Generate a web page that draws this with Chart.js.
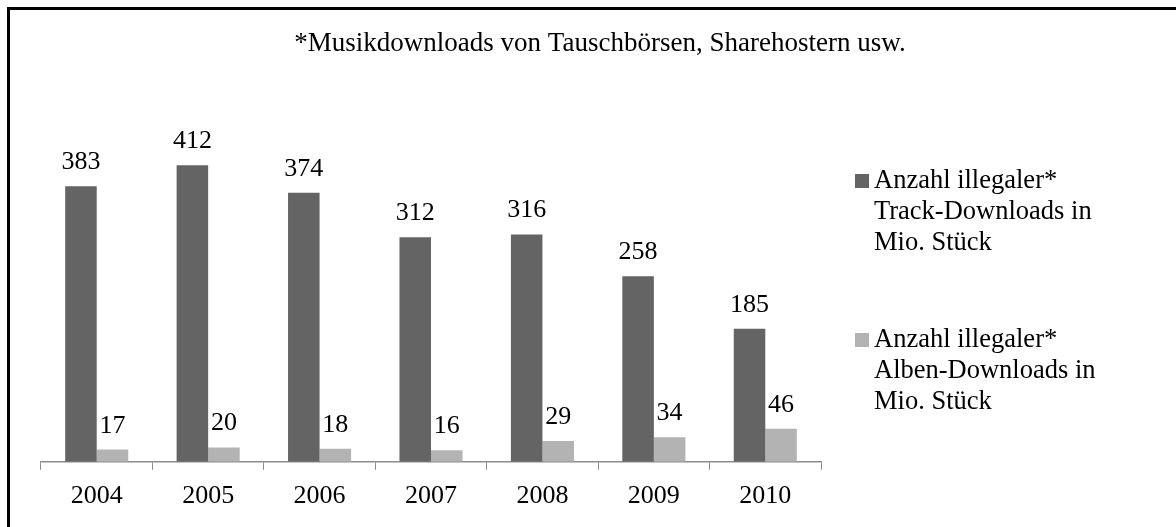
<!DOCTYPE html>
<html>
<head>
<meta charset="utf-8">
<script src="https://cdn.jsdelivr.net/npm/chart.js@4"></script>
<style>
  html, body { margin: 0; padding: 0; background: #fff; }
  #wrap { width: 1176px; height: 527px; position: relative; }
</style>
</head>
<body>
<div id="wrap"><canvas id="chart"></canvas></div>
<script>
const years = ['2004', '2005', '2006', '2007', '2008', '2009', '2010'];
const trackDownloads = [383, 412, 374, 312, 316, 258, 185];
const albumDownloads = [17, 20, 18, 16, 29, 34, 46];
const seriesLabels = [
  ['Anzahl illegaler*', 'Track-Downloads in', 'Mio. Stück'],
  ['Anzahl illegaler*', 'Alben-Downloads in', 'Mio. Stück'],
];
const footnote = '*Musikdownloads von Tauschbörsen, Sharehostern usw.';

const FONT = '"Liberation Serif", "Times New Roman", serif';
const DARK = '#646464';
const LIGHT = '#b3b3b3';

// frame, footnote, value labels and the wrapped legend
const decorations = {
  id: 'decorations',
  afterDraw(chart) {
    const ctx = chart.ctx;
    ctx.save();

    ctx.strokeStyle = '#000';
    ctx.lineWidth = 3;
    ctx.beginPath();
    ctx.moveTo(8.5, 527);
    ctx.lineTo(8.5, 8.5);
    ctx.lineTo(1176, 8.5);
    ctx.stroke();

    ctx.fillStyle = '#000';
    ctx.font = `27px ${FONT}`;
    ctx.textAlign = 'center';
    ctx.textBaseline = 'middle';
    ctx.fillText(footnote, 600, 44);

    ctx.font = `26px ${FONT}`;
    ctx.textBaseline = 'alphabetic';
    chart.data.datasets.forEach((ds, i) => {
      chart.getDatasetMeta(i).data.forEach((bar, j) => {
        ctx.fillText(String(ds.data[j]), bar.x, bar.y - 17);
      });
    });

    const legendTops = [181, 340];
    ctx.font = `26.5px ${FONT}`;
    ctx.textAlign = 'left';
    ctx.textBaseline = 'middle';
    chart.data.datasets.forEach((ds, i) => {
      const y0 = legendTops[i];
      ctx.fillStyle = ds.backgroundColor;
      ctx.fillRect(855, y0 - 7, 14, 14);
      ctx.fillStyle = '#000';
      seriesLabels[i].forEach((line, k) => {
        ctx.fillText(line, 874, y0 + k * 31);
      });
    });

    ctx.restore();
  },
};

new Chart(document.getElementById('chart'), {
  type: 'bar',
  data: {
    labels: years,
    datasets: [
      { label: seriesLabels[0].join(' '), data: trackDownloads, backgroundColor: DARK },
      { label: seriesLabels[1].join(' '), data: albumDownloads, backgroundColor: LIGHT },
    ],
  },
  options: {
    responsive: true,
    maintainAspectRatio: false,
    animation: false,
    categoryPercentage: 0.566,
    barPercentage: 1.0,
    layout: { padding: { left: 41, right: 355, top: 138, bottom: 4 } },
    plugins: {
      legend: { display: false },
      tooltip: { enabled: false },
    },
    scales: {
      x: {
        grid: {
          display: true,
          drawOnChartArea: false,
          drawTicks: true,
          tickLength: 8,
          color: '#8c8c8c',
          offset: true,
        },
        border: { display: true, color: '#8c8c8c', width: 1.5 },
        ticks: {
          color: '#000',
          padding: 11,
          font: { family: FONT, size: 26 },
        },
      },
      y: {
        display: false,
        min: 0,
        max: 450,
      },
    },
  },
  plugins: [decorations],
});
</script>
</body>
</html>
